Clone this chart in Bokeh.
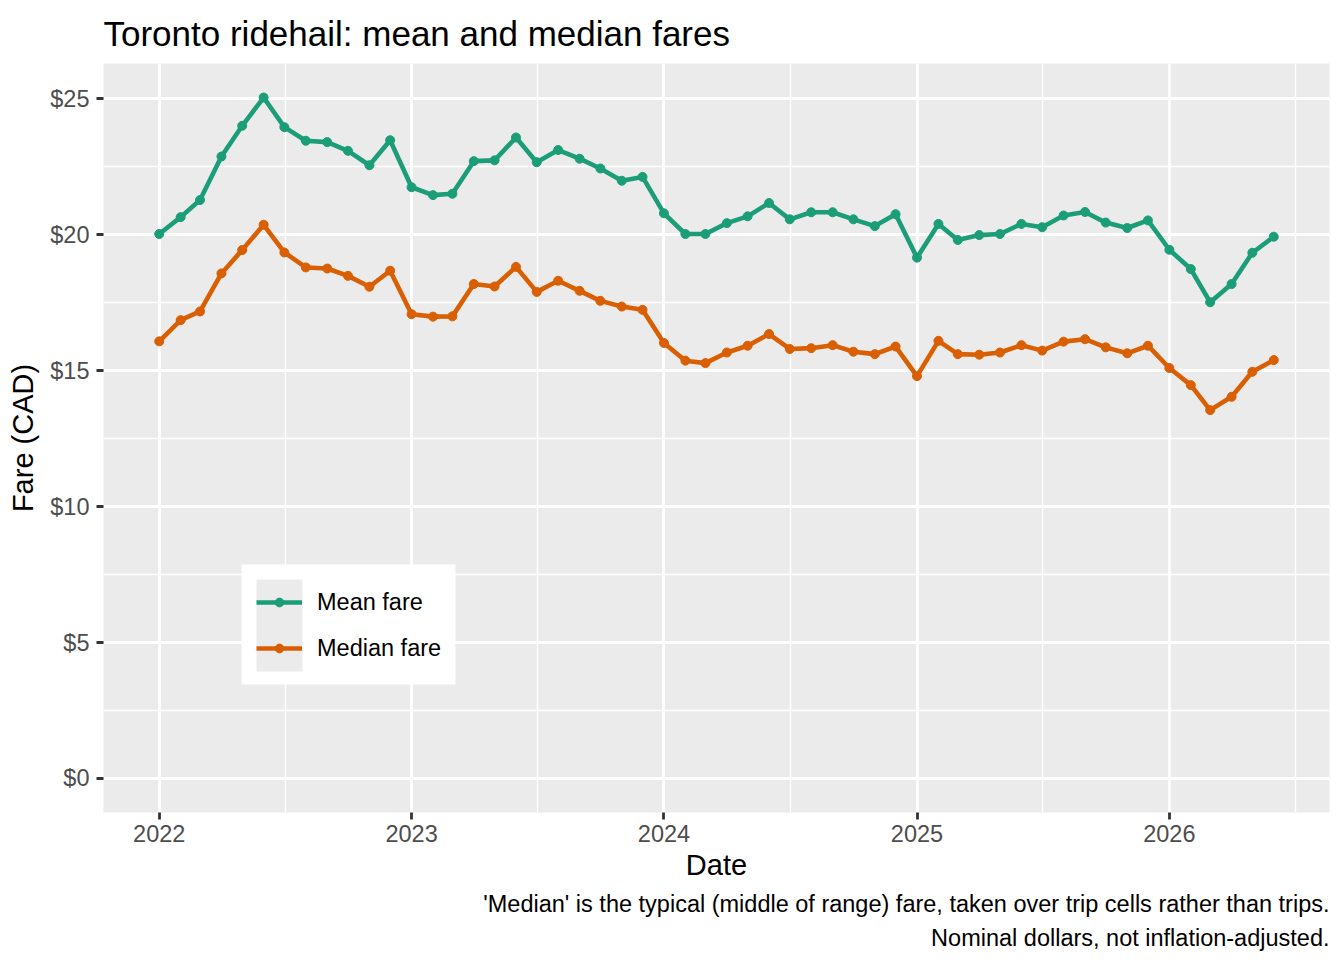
import pandas as pd
from bokeh.plotting import figure
from bokeh.models import (Range1d, FixedTicker, DatetimeTickFormatter, Legend, LegendItem,
                          BoxAnnotation, Title)
from bokeh.embed import file_html
from bokeh.resources import INLINE

# monthly fares, Toronto ridehail (CAD, nominal)
months = pd.date_range("2022-01-01", "2026-06-01", freq="MS")
mean_fare = [
    20.03, 20.65, 21.28, 22.88, 24.01, 25.05, 23.96, 23.46, 23.41, 23.09, 22.56, 23.48,
    21.75, 21.46, 21.51, 22.71, 22.74, 23.58, 22.67, 23.12, 22.80, 22.44, 21.99, 22.13,
    20.79, 20.03, 20.03, 20.43, 20.68, 21.17, 20.57, 20.83, 20.83, 20.57, 20.32, 20.76,
    19.16, 20.40, 19.81, 19.99, 20.03, 20.40, 20.28, 20.71, 20.84, 20.45, 20.25, 20.53,
    19.45, 18.74, 17.52, 18.19, 19.34, 19.93,
]
median_fare = [
    16.08, 16.86, 17.18, 18.58, 19.44, 20.37, 19.35, 18.80, 18.76, 18.49, 18.09, 18.68,
    17.08, 16.99, 17.00, 18.19, 18.10, 18.82, 17.90, 18.31, 17.94, 17.57, 17.36, 17.24,
    16.02, 15.37, 15.28, 15.67, 15.92, 16.35, 15.80, 15.83, 15.94, 15.70, 15.61, 15.89,
    14.80, 16.10, 15.61, 15.59, 15.67, 15.94, 15.74, 16.07, 16.16, 15.86, 15.64, 15.92,
    15.10, 14.47, 13.55, 14.04, 14.96, 15.39,
]
series_names = ["Mean fare", "Median fare"]
series_colors = ["#1B9E77", "#D95F02"]
year_ticks = [2022, 2023, 2024, 2025, 2026]
dollar_ticks = [0, 5, 10, 15, 20, 25]
dollar_labels = ["$0", "$5", "$10", "$15", "$20", "$25"]
caption_lines = [
    "'Median' is the typical (middle of range) fare, taken over trip cells rather than trips.",
    "Nominal dollars, not inflation-adjusted.",
]

FONT = "Liberation Sans"
PANEL = "#EBEBEB"


def ms(ts):
    return pd.Timestamp(ts).timestamp() * 1000


# ggplot-style 5% expansion
pad = (months[-1] - months[0]) * 0.05
ymax = max(max(mean_fare), max(median_fare))
x_range = Range1d(start=months[0] - pad, end=months[-1] + pad)
y_range = Range1d(start=0 - ymax * 0.05, end=ymax * 1.05)

p = figure(width=1336, height=958, x_axis_type="datetime", x_range=x_range, y_range=y_range,
           output_backend="svg", toolbar_location=None,
           min_border_left=103, min_border_right=7, min_border_top=63, min_border_bottom=146,
           title="Toronto ridehail: mean and median fares")
p.background_fill_color = PANEL
p.border_fill_color = "white"
p.outline_line_color = None

p.title.text_font = FONT
p.title.text_font_size = "35px"
p.title.text_font_style = "normal"
p.title.text_color = "black"
p.title.align = "left"
p.title.standoff = 22

# grids
for g in (p.xgrid, p.ygrid):
    g.grid_line_color = "white"
    g.grid_line_width = 2.8
    g.minor_grid_line_color = "white"
    g.minor_grid_line_width = 1.4

p.xaxis.ticker = FixedTicker(ticks=[ms(f"{y}-01-01") for y in year_ticks],
                             minor_ticks=[ms(f"{y}-07-02") for y in year_ticks])
p.xaxis.formatter = DatetimeTickFormatter(years="%Y", months="%Y", days="%Y")
p.yaxis.ticker = FixedTicker(ticks=dollar_ticks,
                             minor_ticks=[t + 2.5 for t in dollar_ticks[:-1]])
p.yaxis.major_label_overrides = dict(zip(dollar_ticks, dollar_labels))

for ax in (p.xaxis, p.yaxis):
    ax.axis_line_color = None
    ax.major_tick_line_color = "#333333"
    ax.major_tick_line_width = 2.8
    ax.major_tick_out = 7
    ax.major_tick_in = 0
    ax.minor_tick_line_color = None
    ax.major_label_text_font = FONT
    ax.major_label_text_font_size = "23.5px"
    ax.major_label_text_color = "#4D4D4D"
    ax.axis_label_text_font = FONT
    ax.axis_label_text_font_size = "29px"
    ax.axis_label_text_font_style = "normal"
    ax.axis_label_text_color = "black"
p.xaxis.major_label_standoff = 5
p.xaxis.axis_label_standoff = 4
p.yaxis.major_label_standoff = 7
p.yaxis.axis_label_standoff = 8
p.xaxis.axis_label = "Date"
p.yaxis.axis_label = "Fare (CAD)"

items = []
for name, vals, col in zip(series_names, [mean_fare, median_fare], series_colors):
    ln = p.line(months, vals, line_width=4.6, color=col)
    pt = p.scatter(months, vals, size=9, color=col)
    items.append(LegendItem(label=name, renderers=[ln, pt]))

# legend box and grey key background (ggplot look)
box_units = dict(left_units="canvas", right_units="canvas", top_units="canvas", bottom_units="canvas")
p.add_layout(BoxAnnotation(left=241, right=455, top=564, bottom=684, fill_color="white",
                           fill_alpha=1, line_color=None, **box_units))
p.add_layout(BoxAnnotation(left=256, right=302, top=579, bottom=671, fill_color=PANEL,
                           fill_alpha=1, line_color=None, **box_units))

legend = Legend(items=items, location=(153, 141), glyph_width=46, glyph_height=22,
                label_height=46, spacing=0, padding=0, label_standoff=15, margin=0,
                border_line_color=None, background_fill_alpha=0,
                label_text_font=FONT, label_text_font_size="23.5px", label_text_color="black")
p.add_layout(legend)

# caption, right-aligned under the x axis
for line, gap in zip(caption_lines, [11, 0]):
    p.add_layout(Title(text=line, align="right", standoff=gap, text_line_height=0.9,
                       text_font=FONT, text_font_size="23.5px", text_font_style="normal",
                       text_color="black"), "below")

open("out.html", "w").write(file_html(p, INLINE))
